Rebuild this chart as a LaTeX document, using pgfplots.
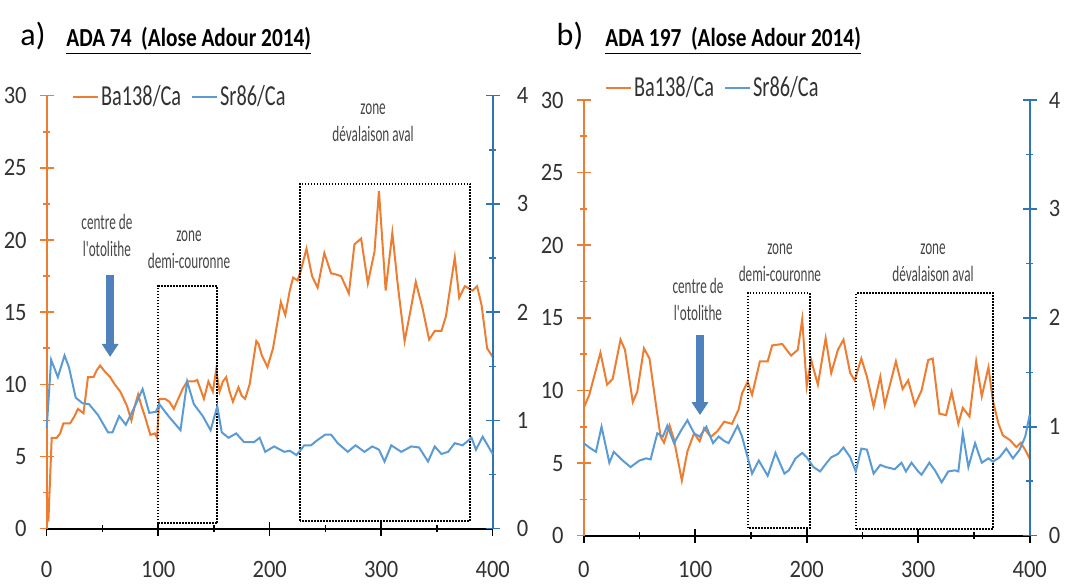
\documentclass[border=0pt]{standalone}
\usepackage{fontspec}
\setmainfont{Carlito}
\newfontfamily\tickf{Carlito}[FakeStretch=0.9]
\newfontfamily\legf{Carlito}[FakeStretch=0.7]
\newfontfamily\titf{Carlito}[FakeStretch=0.82]
\newfontfamily\annf{Carlito}[FakeStretch=0.6]
\usepackage{pgfplots}
\usepackage{pgfplotstable}
\pgfplotsset{compat=1.18}
\usetikzlibrary{arrows.meta}

\definecolor{ba}{RGB}{237,125,49}
\definecolor{sr}{RGB}{91,155,213}
\definecolor{srax}{RGB}{46,117,182}
\definecolor{arr}{RGB}{79,129,189}
\definecolor{txt}{RGB}{50,50,50}
\definecolor{ann}{RGB}{70,70,70}

\pgfplotstableread{
x y
0 2.5
1.5 0.5
4.5 6.3
9 6.3
12 6.6
15 7.3
21 7.3
25 7.8
28 8.3
33 8.0
37 10.5
42 10.5
45 11.0
48 11.3
52 10.9
57 10.5
61 10.0
66 9.5
72 8.5
76 7.5
79 8.5
82 9.3
85 8.5
88 7.8
93 6.5
97 6.6
99 6.3
101 9.0
106 9.0
110 8.8
114 8.3
118 9.0
122 9.7
126 10.2
132 10.2
135 10.3
141 9.0
145 10.2
149 9.5
152 11.0
155 9.5
158 10.2
161 10.5
164 9.5
167 8.8
172 9.8
175 9.2
178 9.0
182 10.0
188 13.0
190 12.8
193 12.0
198 11.2
203 12.5
210 15.7
214 14.8
218 16.5
221 17.4
225 17.2
228 17.9
233 19.4
238 17.5
243 16.7
249 19.1
255 17.7
260 17.6
264 17.5
271 16.3
276 19.7
282 20.1
288 17.0
294 19.2
298 23.4
304 16.5
310 20.5
315 16.8
321 13.0
326 15.0
331 17.1
337 15.3
343 13.1
348 13.7
354 13.7
358 14.7
366 18.8
370 16.0
375 16.8
382 16.5
386 16.8
390 15.5
395 12.5
400 11.9
}\baA

\pgfplotstableread{
x y
0 0.93
4 1.56
10 1.40
16 1.60
20 1.49
26 1.21
32 1.16
38 1.15
46 1.05
55 0.89
59 0.89
65 1.04
71 0.96
79 1.13
86 1.29
92 1.07
98 1.08
101 1.15
110 1.03
120 0.91
126 1.36
132 1.15
140 1.04
147 0.91
153 1.13
157 0.89
163 0.84
170 0.88
177 0.80
186 0.80
191 0.84
196 0.71
204 0.76
213 0.71
218 0.72
224 0.68
231 0.77
237 0.77
243 0.82
250 0.87
255 0.87
261 0.79
270 0.71
277 0.77
285 0.71
292 0.76
298 0.73
303 0.62
309 0.77
318 0.71
327 0.76
334 0.75
342 0.62
348 0.76
354 0.69
360 0.71
366 0.79
373 0.77
381 0.84
385 0.73
391 0.85
400 0.69
}\srA

\pgfplotstableread{
x y
0 8.8
5 9.7
15 12.6
21 10.4
26 10.8
33 13.5
37 12.8
44 9.2
48 9.9
54 12.9
59 12.2
65 8.9
69 6.8
72 6.4
77 7.6
81 6.6
88 3.8
93 5.8
99 7.05
104 6.5
108 7.4
114 6.8
120 7.2
126 7.85
133 7.7
139 8.7
142 9.8
147 10.6
151 9.7
158 12.0
165 12.0
169 13.1
178 13.2
186 12.4
192 12.8
196 14.9
200 10.3
204 12.1
210 10.4
217 13.6
222 11.2
228 12.8
233 13.5
239 11.2
243 10.7
249 12.2
254 10.95
260 8.9
266 10.95
270 9.0
280 12.0
286 10.1
291 10.7
297 9.0
303 10.0
309 12.1
313 12.2
319 8.4
325 8.3
330 9.9
336 7.7
340 8.8
346 8.2
352 12.0
357 9.6
363 11.6
367 9.3
372 7.7
376 6.9
382 6.6
388 6.1
392 6.4
396 5.9
400 5.3
}\baB

\pgfplotstableread{
x y
0 0.85
5 0.81
11 0.77
16 1.00
23 0.67
27 0.77
35 0.69
42 0.63
50 0.69
56 0.71
60 0.70
66 0.94
71 0.91
75 1.01
81 0.85
87 0.96
93 1.06
99 0.94
104 0.91
110 1.00
116 0.85
121 0.91
126 0.87
130 0.85
138 1.01
142 0.91
147 0.72
151 0.57
157 0.69
165 0.55
172 0.76
180 0.57
184 0.60
190 0.71
196 0.76
200 0.72
206 0.63
212 0.59
218 0.67
222 0.72
228 0.75
233 0.81
239 0.72
244 0.59
249 0.80
254 0.79
260 0.57
266 0.65
271 0.63
279 0.61
285 0.67
289 0.59
294 0.67
300 0.59
303 0.56
310 0.67
315 0.60
321 0.49
327 0.59
333 0.60
336 0.59
340 0.94
345 0.63
351 0.85
357 0.67
363 0.71
367 0.68
373 0.72
379 0.80
385 0.71
391 0.79
396 0.91
400 1.11
}\srB

\tikzset{
  dotbox/.style={black, line width=1pt, dash pattern=on 0.8pt off 0.7pt},
  anno/.style={align=center, font=\annf\fontsize{11}{13.5}\selectfont, text=ann},
  bigarr/.style={arr, line width=4pt, -{Triangle[width=8pt,length=6.5pt]}},
}

\pgfplotsset{
  common/.style={
    scale only axis, width=223pt, anchor=south west,
    xmin=0, xmax=400, clip=false,
    tick align=center, major tick length=7pt, minor tick length=3.5pt,
    /pgf/number format/assume math mode=true,
    ticklabel style={font=\tickf\fontsize{12.5}{14}\selectfont, text=txt},
    axis line style={-},
  },
  leftax/.style={common,
    axis x line*=bottom, axis y line*=left,
    ymin=0, ymax=30,
    xtick={0,100,...,400}, minor xtick={50,150,250,350},
    ytick={0,5,...,30}, minor ytick={2.5,7.5,...,27.5},
    x axis line style={black, line width=0.9pt},
    y axis line style={ba, line width=0.9pt},
    xtick style={black, line width=0.8pt},
    ytick style={ba, line width=0.8pt},
    minor y tick style={ba}, minor x tick style={black},
    yticklabel style={xshift=-3pt},
  },
  rightax/.style={common,
    axis x line=none, axis y line*=right,
    ymin=0, ymax=4, ytick={0,1,...,4}, minor ytick={0.5,1.5,2.5,3.5},
    y axis line style={srax, line width=0.9pt},
    ytick style={srax, line width=0.8pt}, minor y tick style={srax},
    legend columns=2,
    legend style={draw=none, fill=none, inner sep=0pt, outer sep=0pt,
      font=\legf\fontsize{14.5}{16}\selectfont, text=txt,
      nodes={inner sep=1pt},
      /tikz/every even column/.append style={column sep=4pt}},
    legend cell align=left,
    legend image code/.code={\draw[#1] (0pt,0pt) -- (12.5pt,0pt);},
  },
}

\begin{document}
\begin{tikzpicture}
\path[use as bounding box] (0,0) rectangle (533pt,294pt);

% ---------- panel a ----------
\node[font=\fontsize{16}{18}\selectfont, text=black] at (16.5pt,276pt) {a)};
\node[anchor=base west, inner sep=0pt, font=\titf\bfseries\fontsize{13}{15}\selectfont] at (33pt,270.5pt) {\underline{ADA 74\ \ (Alose Adour 2014)}};

\begin{axis}[leftax, at={(23.35pt,29.65pt)}, height=216.5pt,
  xticklabel style={yshift=-9.5pt}]
\addplot[ba, line width=1pt] table {\baA};
\draw[dotbox] (axis cs:100,0.37) rectangle (axis cs:153,16.8);
\draw[dotbox] (axis cs:227,0.55) rectangle (axis cs:380,23.9);
\node[anno] at (axis cs:292.7,28.15) {zone\\dévalaison aval};
\node[anno] at (axis cs:54,20.3) {centre de\\l'otolithe};
\node[anno] at (axis cs:127.6,19.3) {zone\\demi-couronne};
\draw[bigarr] (axis cs:56.9,17.6) -- (axis cs:56.9,11.9);
\end{axis}
\begin{axis}[rightax, at={(23.35pt,29.65pt)}, height=216.5pt,
  yticklabel style={xshift=5pt},
  legend style={at={(0.057,0.997)}, anchor=west}]
\addlegendimage{ba, line width=1pt}
\addlegendentry{Ba138/Ca}
\addplot[sr, line width=1pt] table {\srA};
\addlegendentry{Sr86/Ca}
\end{axis}

% ---------- panel b ----------
\node[font=\fontsize{16}{18}\selectfont, text=black] at (285pt,276pt) {b)};
\node[anchor=base west, inner sep=0pt, font=\titf\bfseries\fontsize{13}{15}\selectfont] at (302.5pt,270.5pt) {\underline{ADA 197\ \ (Alose Adour 2014)}};

\begin{axis}[leftax, at={(291.85pt,26.15pt)}, height=217.85pt,
  xticklabel style={yshift=-6pt}]
\addplot[ba, line width=1pt] table {\baB};
\draw[dotbox] (axis cs:147.4,0.5) rectangle (axis cs:202.7,16.7);
\draw[dotbox] (axis cs:244.5,0.44) rectangle (axis cs:367,16.7);
\node[anno] at (axis cs:102.5,16.3) {centre de\\l'otolithe};
\node[anno] at (axis cs:176,18.8) {zone\\demi-couronne};
\node[anno] at (axis cs:313.3,18.8) {zone\\dévalaison aval};
\draw[bigarr] (axis cs:104.3,13.8) -- (axis cs:104.3,8.3);
\end{axis}
\begin{axis}[rightax, at={(291.85pt,26.15pt)}, height=217.85pt,
  yticklabel style={xshift=2.5pt},
  legend style={at={(0.048,1.0275)}, anchor=west}]
\addlegendimage{ba, line width=1pt}
\addlegendentry{Ba138/Ca}
\addplot[sr, line width=1pt] table {\srB};
\addlegendentry{Sr86/Ca}
\end{axis}
\end{tikzpicture}
\end{document}
